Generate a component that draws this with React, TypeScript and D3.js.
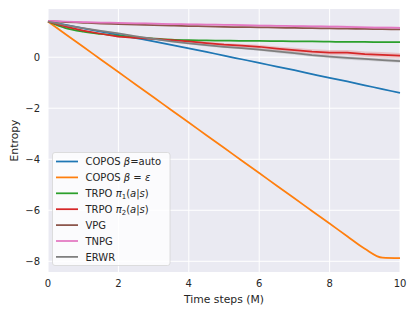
import React, { useEffect, useRef } from 'react';
import * as d3 from 'd3';

// time axis (M steps)
const steps = [0, 0.5, 1, 1.5, 2, 2.5, 3, 3.5, 4, 4.5, 5, 5.5, 6, 6.5, 7, 7.5, 8, 8.5, 9, 9.5, 10];

const coposAuto = [1.40, 1.27, 1.13, 1.00, 0.88, 0.75, 0.62, 0.48, 0.35, 0.21, 0.06, -0.08, -0.22, -0.37, -0.51, -0.66, -0.81, -0.95, -1.10, -1.25, -1.40];
const coposEps = [1.40, 0.90, 0.41, -0.09, -0.58, -1.08, -1.57, -2.07, -2.56, -3.06, -3.55, -4.05, -4.54, -5.04, -5.53, -6.03, -6.52, -7.02, -7.51, -7.86, -7.88];
const trpo1 = [1.40, 1.14, 1.00, 0.91, 0.84, 0.78, 0.73, 0.69, 0.67, 0.66, 0.65, 0.64, 0.64, 0.63, 0.62, 0.62, 0.61, 0.60, 0.60, 0.59, 0.59];
const trpo2 = [1.40, 1.20, 1.04, 0.92, 0.81, 0.76, 0.72, 0.67, 0.62, 0.55, 0.49, 0.45, 0.41, 0.34, 0.28, 0.22, 0.18, 0.18, 0.12, 0.09, 0.06];
const vpg = [1.42, 1.38, 1.35, 1.32, 1.30, 1.28, 1.26, 1.24, 1.22, 1.21, 1.19, 1.18, 1.17, 1.16, 1.15, 1.14, 1.13, 1.12, 1.11, 1.10, 1.09];
const tnpg = [1.42, 1.40, 1.38, 1.36, 1.35, 1.33, 1.32, 1.30, 1.29, 1.28, 1.27, 1.26, 1.24, 1.23, 1.22, 1.21, 1.20, 1.19, 1.17, 1.16, 1.15];
const erwr = [1.40, 1.26, 1.14, 1.03, 0.93, 0.82, 0.72, 0.62, 0.54, 0.47, 0.41, 0.36, 0.30, 0.23, 0.16, 0.08, 0.02, -0.03, -0.07, -0.11, -0.15];

// half-width of the shaded bands
const trpo2Spread = [0, 0.02, 0.03, 0.03, 0.04, 0.04, 0.05, 0.05, 0.06, 0.06, 0.07, 0.07, 0.08, 0.08, 0.09, 0.09, 0.10, 0.10, 0.10, 0.11, 0.11];
const erwrSpread = [0, 0.02, 0.02, 0.03, 0.03, 0.03, 0.04, 0.04, 0.04, 0.05, 0.05, 0.05, 0.05, 0.06, 0.06, 0.06, 0.06, 0.07, 0.07, 0.07, 0.07];
const tnpgSpread = [0, 0.01, 0.02, 0.02, 0.02, 0.03, 0.03, 0.03, 0.03, 0.03, 0.04, 0.04, 0.04, 0.04, 0.04, 0.04, 0.05, 0.05, 0.05, 0.05, 0.05];
const smallSpread = steps.map(() => 0.015);

const xTicks = [0, 2, 4, 6, 8, 10];
const yTicks = [-8, -6, -4, -2, 0];

// legend label pieces: [text, style]
type Part = [string, 'n' | 'i' | 'sub'];
const labels: Part[][] = [
  [['COPOS ', 'n'], ['β', 'i'], ['=auto', 'n']],
  [['COPOS ', 'n'], ['β', 'i'], [' = ', 'n'], ['ε', 'i']],
  [['TRPO ', 'n'], ['π', 'i'], ['1', 'sub'], ['(', 'n'], ['a', 'i'], ['|', 'n'], ['s', 'i'], [')', 'n']],
  [['TRPO ', 'n'], ['π', 'i'], ['2', 'sub'], ['(', 'n'], ['a', 'i'], ['|', 'n'], ['s', 'i'], [')', 'n']],
  [['VPG', 'n']],
  [['TNPG', 'n']],
  [['ERWR', 'n']],
];

const series = [
  { values: coposAuto, spread: smallSpread, color: '#1f77b4', curve: d3.curveMonotoneX },
  { values: coposEps, spread: smallSpread, color: '#ff7f0e', curve: d3.curveMonotoneX },
  { values: trpo1, spread: smallSpread, color: '#2ca02c', curve: d3.curveMonotoneX },
  { values: trpo2, spread: trpo2Spread, color: '#d62728', curve: d3.curveLinear },
  { values: vpg, spread: smallSpread, color: '#8c564b', curve: d3.curveMonotoneX },
  { values: tnpg, spread: tnpgSpread, color: '#e377c2', curve: d3.curveMonotoneX },
  { values: erwr, spread: erwrSpread, color: '#7f7f7f', curve: d3.curveLinear },
];

const App: React.FC = () => {
  const svgRef = useRef<SVGSVGElement>(null);

  useEffect(() => {
    if (!svgRef.current) return;
    const W = 416, H = 314;
    const margin = { top: 9, right: 16, bottom: 42, left: 48 };
    const width = W - margin.left - margin.right;
    const height = H - margin.top - margin.bottom;

    const svg = d3.select(svgRef.current);
    svg.selectAll('*').remove();
    svg.append('rect').attr('width', W).attr('height', H).attr('fill', '#ffffff');

    const g = svg.append('g').attr('transform', `translate(${margin.left},${margin.top})`);

    const x = d3.scaleLinear().domain([0, 10]).range([0, width]);
    const y = d3.scaleLinear().domain([-8.42, 1.89]).range([height, 0]);

    g.append('rect').attr('width', width).attr('height', height).attr('fill', '#eaeaf2');

    // grid
    g.selectAll('.xg').data(xTicks).enter().append('line')
      .attr('x1', d => x(d)).attr('x2', d => x(d))
      .attr('y1', 0).attr('y2', height)
      .attr('stroke', '#fff').attr('stroke-width', 1);
    g.selectAll('.yg').data(yTicks).enter().append('line')
      .attr('y1', d => y(d)).attr('y2', d => y(d))
      .attr('x1', 0).attr('x2', width)
      .attr('stroke', '#fff').attr('stroke-width', 1);

    // tick labels
    const font = 'DejaVu Sans, sans-serif';
    g.selectAll('.xt').data(xTicks).enter().append('text')
      .attr('x', d => x(d)).attr('y', height + 15)
      .attr('text-anchor', 'middle')
      .style('font-family', font).style('font-size', '10px').attr('fill', '#262626')
      .text(d => d3.format('d')(d));
    g.selectAll('.yt').data(yTicks).enter().append('text')
      .attr('x', -8).attr('y', d => y(d) + 3.6)
      .attr('text-anchor', 'end')
      .style('font-family', font).style('font-size', '10px').attr('fill', '#262626')
      .text(d => (d < 0 ? '\u2212' + Math.abs(d) : String(d)));

    g.append('text')
      .attr('x', width / 2).attr('y', height + 30.5)
      .attr('text-anchor', 'middle')
      .style('font-family', font).style('font-size', '10.8px').attr('fill', '#262626')
      .text('Time steps (M)');
    g.append('text')
      .attr('transform', `translate(${-30},${height / 2}) rotate(-90)`)
      .attr('text-anchor', 'middle')
      .style('font-family', font).style('font-size', '10.8px').attr('fill', '#262626')
      .text('Entropy');

    // bands + lines
    const area = d3.area<number>()
      .x((_, i) => x(steps[i]));
    series.forEach(s => {
      g.append('path')
        .datum(s.values)
        .attr('fill', s.color)
        .attr('opacity', 0.2)
        .attr('d', area.curve(s.curve)
          .y0((d, i) => y(d - s.spread[i]))
          .y1((d, i) => y(d + s.spread[i])));
    });
    series.forEach(s => {
      const line = d3.line<number>()
        .x((_, i) => x(steps[i]))
        .y(d => y(d))
        .curve(s.curve);
      g.append('path')
        .datum(s.values)
        .attr('fill', 'none')
        .attr('stroke', s.color)
        .attr('stroke-width', 1.75)
        .attr('d', line);
    });

    // legend
    const lg = svg.append('g').attr('transform', 'translate(52.5,152.5)');
    lg.append('rect')
      .attr('width', 117.5).attr('height', 113)
      .attr('rx', 2.5)
      .attr('fill', '#ffffff').attr('fill-opacity', 0.8)
      .attr('stroke', '#d6d6d6').attr('stroke-width', 0.8);
    labels.forEach((parts, i) => {
      const yy = 9 + i * 15.9;
      lg.append('line')
        .attr('x1', 3.5).attr('x2', 25.5)
        .attr('y1', yy).attr('y2', yy)
        .attr('stroke', series[i].color).attr('stroke-width', 1.75);
      const t = lg.append('text')
        .attr('x', 33).attr('y', yy + 3.6)
        .style('font-family', font).style('font-size', '10px').attr('fill', '#262626');
      let shifted = false;
      parts.forEach(([txt, st]) => {
        const sp = t.append('tspan').text(txt);
        if (st === 'i') sp.style('font-style', 'italic');
        if (st === 'sub') {
          sp.style('font-size', '7px').attr('dy', 2.5);
          shifted = true;
        } else if (shifted) {
          sp.attr('dy', -2.5);
          shifted = false;
        }
      });
    });
  }, []);

  return (
    <svg ref={svgRef} width={416} height={314}
      style={{ position: 'absolute', left: 0, top: 0 }} />
  );
};

export default App;
